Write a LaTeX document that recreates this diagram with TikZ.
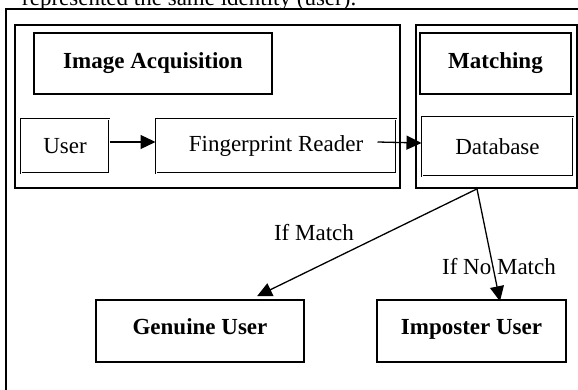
\documentclass[tikz,border=0pt]{standalone}
\usepackage{fontspec}
\setmainfont{Liberation Serif}
\usetikzlibrary{arrows.meta}

\begin{document}
\begin{tikzpicture}[
  x=1pt, y=-1pt,
  font=\fontsize{23}{27}\selectfont,
  frame/.style={line width=1.8pt},
  panel/.style={draw, line width=1.8pt, inner sep=0pt},
  title/.style={draw, line width=1.8pt, font=\fontsize{23}{27}\selectfont\bfseries, minimum height=61pt},
  unit/.style={draw, double, double distance=0.5pt, line width=1pt},
  result/.style={draw, line width=1.5pt, font=\fontsize{23}{27}\selectfont\bfseries, minimum height=62pt, text height=15pt, text depth=9pt},
  flow/.style={-{Triangle[length=15pt,width=14pt]}, line width=1.3pt},
  cond/.style={inner sep=0pt}
]
\useasboundingbox (0,0) rectangle (578,390);
\clip (0,0) rectangle (578,390);

% Cut-off text above the figure
\node[anchor=base west, inner sep=0pt] (caption) at (22,5.5) {represented the same identity (user).};

% Outer frame
\draw[frame] (6,9) rectangle (600,410);

% Panels
\node[panel, minimum width=385pt, minimum height=163pt] (acq) at (207.5,106.5) {};
\node[panel, minimum width=161pt, minimum height=163pt] (match) at (496.5,106.5) {};
\node[title, minimum width=238pt] (acqtitle) at (153,63.5) {Image Acquisition};
\node[title, minimum width=151pt] (matchtitle) at (495.5,63.5) {Matching};

% Stages
\node[unit, minimum width=88pt, minimum height=54pt] (user) at (65,146) {User};
\node[unit, minimum width=240pt, minimum height=54pt] (reader) at (276,146) {Fingerprint Reader};
\node[unit, minimum width=151pt, minimum height=59pt] (db) at (497.5,146.5) {Database};

% Decisions
\node[result, minimum width=208pt] (genuine) at (200,331) {Genuine User};
\node[result, minimum width=189pt] (imposter) at (471.5,331) {Imposter User};

% Arrows
\draw[flow] ([yshift=4pt]user.east) -- ([yshift=4pt]reader.west);
\draw[flow] ([xshift=-19pt,yshift=4pt]reader.east) -- ([yshift=3.5pt]db.west);
\coordinate (fork) at ([xshift=-19.5pt]match.south);
\draw[flow] (fork) -- ([xshift=57pt,yshift=3pt]genuine.north);
\draw[flow] (fork) -- ([xshift=28.5pt,yshift=-2pt]imposter.north);
\node[cond] (ifmatch) at (314,233) {If Match};
\node[cond] (ifnomatch) at (499,267) {If No Match};

\end{tikzpicture}
\end{document}
